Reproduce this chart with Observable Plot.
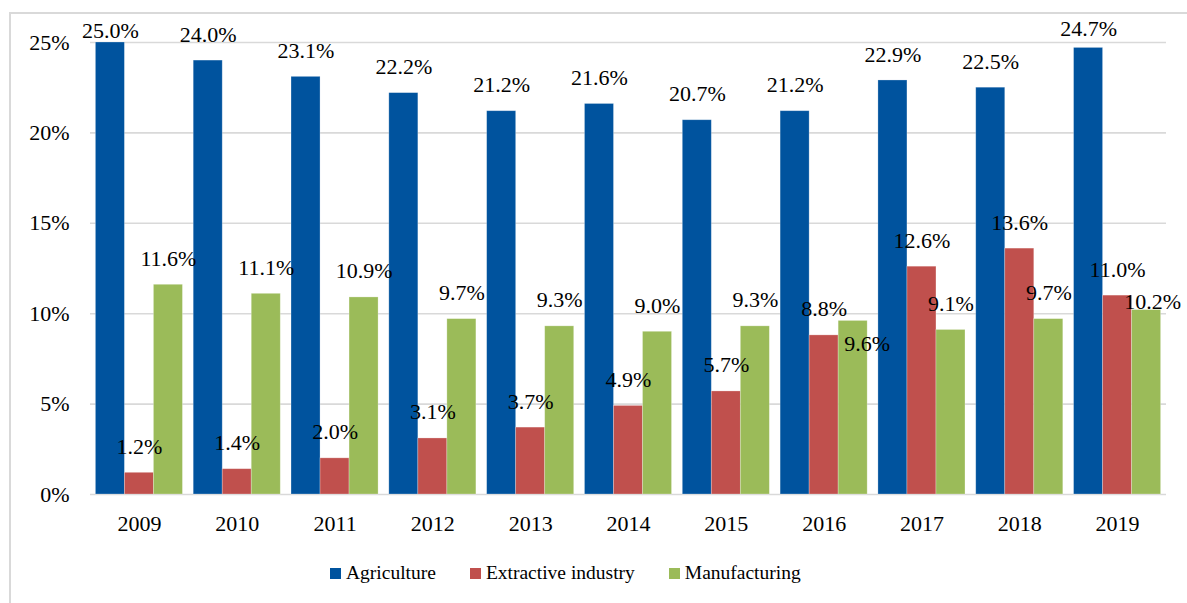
<!DOCTYPE html>
<html><head><meta charset="utf-8">
<script src="https://cdn.jsdelivr.net/npm/d3@7"></script>
<script src="https://cdn.jsdelivr.net/npm/@observablehq/plot@0.6"></script>
<style>
html,body{margin:0;padding:0;background:#fff;overflow:hidden}
#wrap{position:relative;width:1187px;height:603px;font-family:"Liberation Serif","Times New Roman",serif;overflow:hidden}
#border{position:absolute;left:9px;top:12px;width:1220px;height:640px;border:2px solid #d9d9d9;box-sizing:border-box}
.layer{position:absolute;left:0;top:0}
#legend{position:absolute;left:330px;top:561px;display:flex;align-items:center;font-size:19.5px;color:#000;line-height:24px}
.item{display:flex;align-items:center;margin-right:34px}
.sw{width:11px;height:11px;margin-right:5px}
svg text{font-family:"Liberation Serif","Times New Roman",serif}
</style></head>
<body><div id="wrap"><div id="border"></div><div id="bg" class="layer"></div><div id="fg" class="layer"></div><div id="legend"></div></div>
<script>
const years = ["2009","2010","2011","2012","2013","2014","2015","2016","2017","2018","2019"];
const series = ["Agriculture","Extractive industry","Manufacturing"];
const agriculture = [25.0,24.0,23.1,22.2,21.2,21.6,20.7,21.2,22.9,22.5,24.7];
const extractive = [1.2,1.4,2.0,3.1,3.7,4.9,5.7,8.8,12.6,13.6,11.0];
const manufacturing = [11.6,11.1,10.9,9.7,9.3,9.0,9.3,9.6,9.1,9.7,10.2];
const yTicks = [0,5,10,15,20,25];
const colors = ["#00539E","#C0504D","#9BBB59"];

const table = [];
[agriculture, extractive, manufacturing].forEach((vals, si) => {
  vals.forEach((v, i) => table.push({year: years[i], series: series[si], value: v}));
});

const W = 1187, H = 540, mt = 42, mb = 46, ml = 90, mr = 21;
const FF = '"Liberation Serif","Times New Roman",serif';
const font = {fontFamily: FF, fontSize: "22px", background: "transparent", color: "#000", overflow: "visible"};

const bg = Plot.plot({
  width: W, height: H, marginTop: mt, marginBottom: mb, marginLeft: ml, marginRight: mr,
  style: font,
  x: {domain: [0, 1], axis: null},
  y: {domain: [0, 25]},
  marks: [
    Plot.gridY(yTicks, {stroke: "#d9d9d9", strokeOpacity: 1, strokeWidth: 1.6}),
    Plot.axisY(yTicks, {tickSize: 0, tickPadding: 21, tickFormat: d => d + "%", fontSize: 22, fill: "#000", label: null})
  ]
});
document.getElementById("bg").appendChild(bg);

const lab = d => d.value.toFixed(1) + "%";
const key = d => d.series + "|" + d.year;
const special = {
  "Agriculture|2009": [0, -12],
  "Agriculture|2019": [0, -19],
  "Manufacturing|2016": [14, 23],
  "Manufacturing|2019": [6, -8]
};
const textBase = {fx: "year", x: "series", y: "value", text: lab, fontSize: 22, fill: "#000"};
const specialMarks = Object.entries(special).map(([k, [dx, dy]]) =>
  Plot.text(table.filter(d => key(d) === k), {...textBase, dx, dy}));

const fg = Plot.plot({
  width: W, height: H, marginTop: mt, marginBottom: mb, marginLeft: ml, marginRight: mr,
  style: font,
  fx: {domain: years, paddingInner: 0.11, paddingOuter: 0.055, round: false, axis: "bottom", label: null, tickSize: 0, tickPadding: 21},
  x: {domain: series, padding: 0, round: false, axis: null},
  y: {domain: [0, 25], axis: null},
  color: {domain: series, range: colors},
  marks: [
    Plot.barY(table, {fx: "year", x: "series", y: "value", fill: "series", inset: 0, stroke: "#ffffff", strokeOpacity: 0.35, strokeWidth: 0.75}),
    Plot.text(table.filter(d => !(key(d) in special)), {...textBase, dy: -26}),
    ...specialMarks
  ]
});
document.getElementById("fg").appendChild(fg);

const legend = document.getElementById("legend");
series.forEach((s, i) => {
  const it = document.createElement("div");
  it.className = "item";
  it.innerHTML = `<div class="sw" style="background:${colors[i]}"></div><span>${s}</span>`;
  legend.appendChild(it);
});
</script></body></html>
